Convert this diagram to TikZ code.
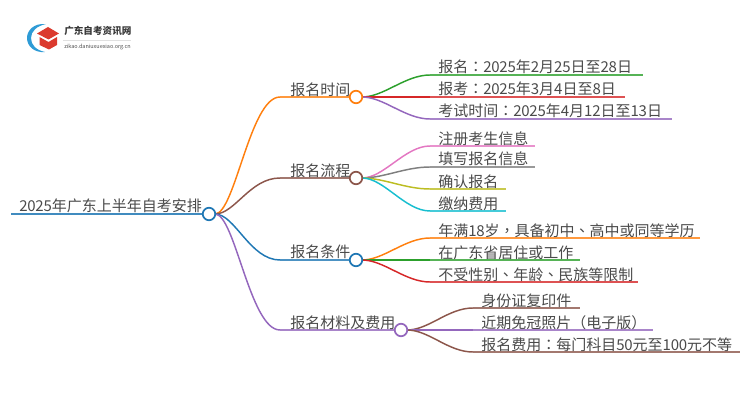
\documentclass[tikz,border=0pt]{standalone}
\usepackage{fontspec}
\setmainfont{Noto Sans CJK SC}
\newfontfamily\pf{Noto Sans CJK TC}
\newfontfamily\dgf{Noto Sans CJK SC}[LetterSpace=-1.5]
\newcommand{\pu}[1]{{\pf #1}}
\newcommand{\dg}[1]{{\dgf #1}}
\definecolor{tc}{HTML}{4A4A4A}
\definecolor{corange}{HTML}{FF7F0E}
\definecolor{cbrown}{HTML}{8C564B}
\definecolor{cblue}{HTML}{1F77B4}
\definecolor{cpurple}{HTML}{9467BD}
\definecolor{cgreen}{HTML}{2CA02C}
\definecolor{cred}{HTML}{D62728}
\definecolor{cpink}{HTML}{E377C2}
\definecolor{cgray}{HTML}{7F7F7F}
\definecolor{colive}{HTML}{BCBD22}
\definecolor{ccyan}{HTML}{17BECF}
\definecolor{logor}{HTML}{DB3A2E}
\definecolor{logob}{HTML}{2E9BD6}
\tikzset{
  x=0.75pt,y=-0.75pt,
  lbl/.style={anchor=base west,inner sep=0pt,text=tc,font=\fontsize{11.25pt}{13pt}\selectfont},
  hub/.style={circle,draw=#1,fill=white,line width=1.3pt,minimum size=12.5*0.75pt,inner sep=0pt},
  edge/.style={draw=#1,line width=1.1pt},
  ul/.style={draw=#1,line width=1.4pt,draw opacity=.8},
}
% name, line start, text x, line end, y, colour, text
\newcommand{\leaf}[7]{%
  \coordinate (#1s) at (#2,#5);
  \coordinate (#1e) at (#4,#5);
  \node[lbl] (#1) at (#3,#5-2) {#7};
  \draw[ul=#6] (#1s) -- (#1e);
}
\newcommand{\cv}[5]{% from, to, colour, c1x, c2x
  \draw[edge=#3] (#1) .. controls ($(#1)+(#4,0)$) and ($(#2)+(#5,0)$) .. (#2);
}
\usetikzlibrary{calc}
\begin{document}
\begin{tikzpicture}
\useasboundingbox (0,0) rectangle (750,410);
% logo
\fill[logob] (46,24) .. controls (33,23) and (27,31) .. (27,38) .. controls (27,46) and (34,53) .. (45,52) .. controls (36,50) and (31,45) .. (31,38) .. controls (31,31) and (37,26) .. (46,24) -- cycle;
\fill[logor] (37,33.5) -- (48,27) -- (59,33.5) -- (48.5,39.5) -- cycle;
\fill[logor] (39.5,37) -- (48.5,42) -- (57,37) -- (57,45) -- (49,49.5) -- (39.5,45) -- cycle;
\node[anchor=west,inner sep=0pt,text=black!78,font=\fontsize{7.2pt}{8pt}\selectfont\bfseries] (logot) at (64,31) {广东自考资讯网};
\draw[black!12,line width=.3pt] (63,40) -- (131,40);
\node[anchor=west,inner sep=0pt,text=black!70,font=\fontsize{4.1pt}{5pt}\selectfont] (logou) at (64,47) {zikao.daniuxuexiao.org.cn};
% root and hubs
\coordinate (r0) at (11,214);
\coordinate (rs) at (215,214);
\coordinate (a0) at (280,97); \coordinate (b0) at (280,178);
\coordinate (c0) at (280,260); \coordinate (d0) at (280,330);
\coordinate (as) at (362,97); \coordinate (bs) at (362,178);
\coordinate (cs) at (362,260); \coordinate (ds) at (407,330);
\cv{rs}{a0}{corange}{20}{-30}
\cv{rs}{b0}{cbrown}{20}{-30}
\cv{rs}{c0}{cblue}{20}{-30}
\cv{rs}{d0}{cpurple}{20}{-30}
% leaves
\leaf{a1}{430}{438}{643}{75}{cgreen}{报名\pu{：}\dg{2025}年\dg{2}月\dg{25}日至\dg{28}日}
\leaf{a2}{430}{438}{625}{97}{cred}{报考\pu{：}\dg{2025}年\dg{3}月\dg{4}日至\dg{8}日}
\leaf{a3}{430}{438}{672}{119}{cpurple}{考试时间\pu{：}\dg{2025}年\dg{4}月\dg{12}日至\dg{13}日}
\leaf{b1}{430}{438}{535}{146}{cpink}{注册考生信息}
\leaf{b2}{430}{438}{535}{167}{cgray}{填写报名信息}
\leaf{b3}{430}{438}{506}{189}{colive}{确认报名}
\leaf{b4}{430}{438}{506}{211}{ccyan}{缴纳费用}
\leaf{c1}{430}{438}{700}{238}{corange}{年满\dg{18}岁\pu{，}具备初中\pu{、}高中或同等学历}
\leaf{c2}{430}{438}{580}{260}{cgreen}{在广东省居住或工作}
\leaf{c3}{430}{438}{638}{282}{cred}{不受性别\pu{、}年龄\pu{、}民族等限制}
\leaf{d1}{473}{481}{580}{308}{cbrown}{身份证复印件}
\leaf{d2}{473}{481}{653}{330}{cpurple}{近期免冠照片\pu{（}电子版\pu{）}}
\leaf{d3}{473}{481}{740}{352}{cbrown}{报名费用\pu{：}每门科目\dg{50}元至\dg{100}元不等}
\cv{as}{a1s}{cgreen}{22}{-25}
\cv{as}{a2s}{cred}{22}{-25}
\cv{as}{a3s}{cpurple}{22}{-25}
\cv{bs}{b1s}{cpink}{22}{-25}
\cv{bs}{b2s}{cgray}{22}{-25}
\cv{bs}{b3s}{colive}{22}{-25}
\cv{bs}{b4s}{ccyan}{22}{-25}
\cv{cs}{c1s}{corange}{22}{-25}
\cv{cs}{c2s}{cgreen}{22}{-25}
\cv{cs}{c3s}{cred}{22}{-25}
\cv{ds}{d1s}{cbrown}{22}{-25}
\cv{ds}{d2s}{cpurple}{22}{-25}
\cv{ds}{d3s}{cbrown}{22}{-25}
\draw[ul=corange] (a0) -- (as);
\draw[ul=cbrown] (b0) -- (bs);
\draw[ul=cblue] (c0) -- (cs);
\draw[ul=cpurple] (d0) -- (ds);
\draw[line width=2pt,cblue,draw opacity=.85] (r0) -- (rs);
\node[hub=cblue] (root) at (209,214) {};
\node[hub=corange] (a) at (356,97) {};
\node[hub=cbrown] (b) at (356,178) {};
\node[hub=cblue] (c) at (356,260) {};
\node[hub=cpurple] (d) at (401,330) {};
\node[lbl] (roott) at (19,211) {\dg{2025}年广东上半年自考安排};
\node[lbl] (at) at (290,96) {报名时间};
\node[lbl] (bt) at (290,176.5) {报名流程};
\node[lbl] (ct) at (290,257.5) {报名条件};
\node[lbl] (dt) at (290,328.5) {报名材料及费用};
\end{tikzpicture}
\end{document}
